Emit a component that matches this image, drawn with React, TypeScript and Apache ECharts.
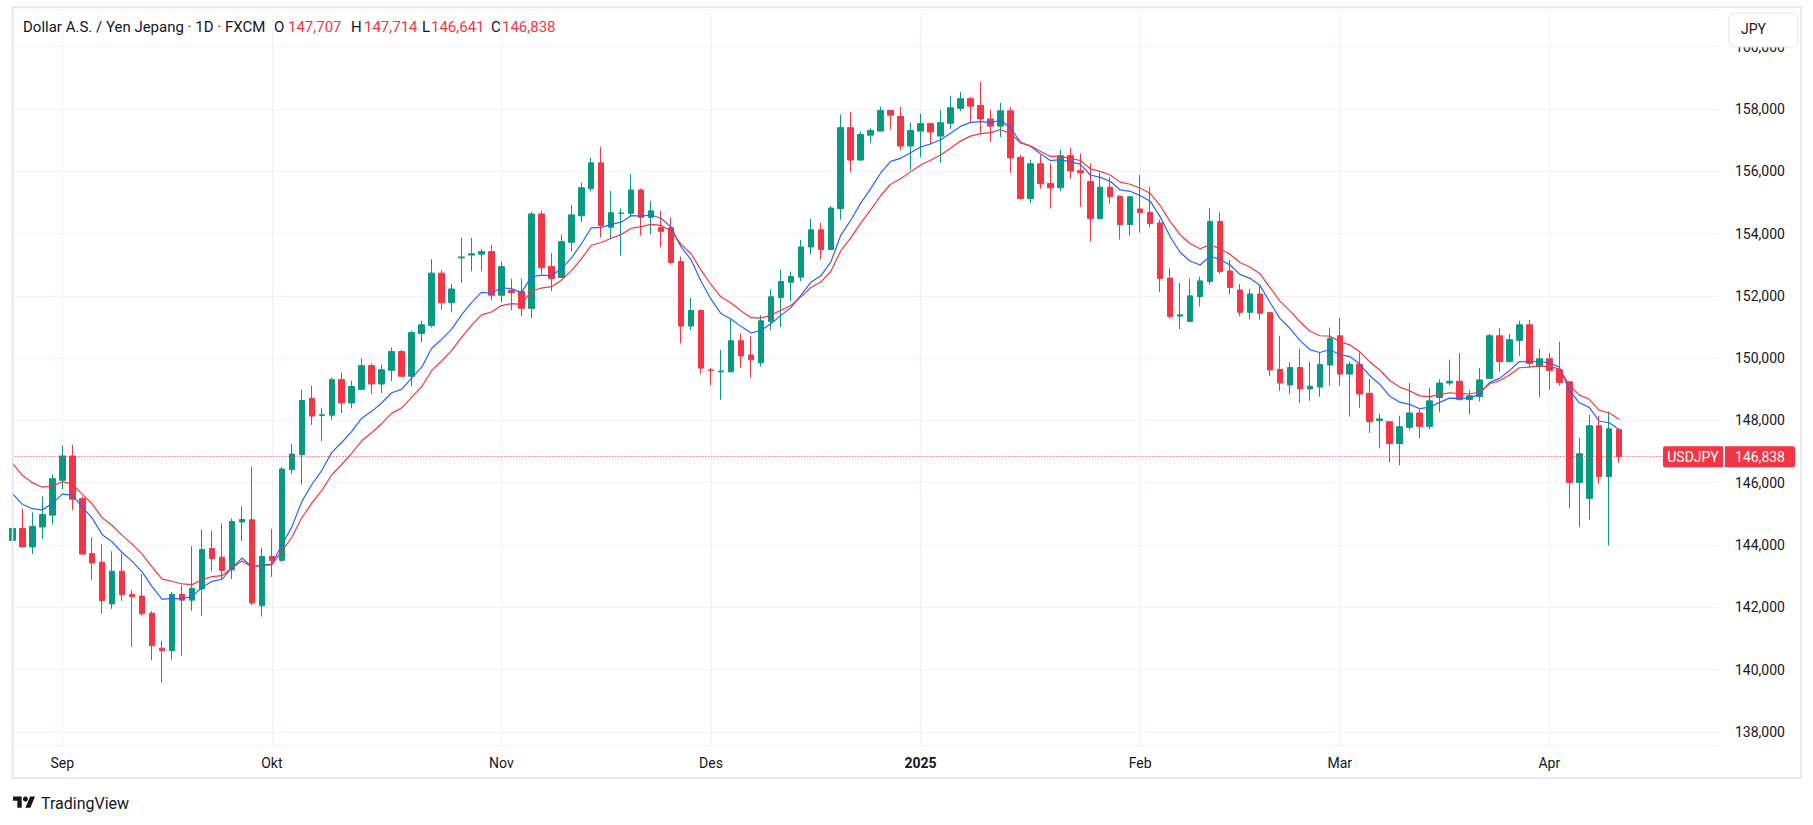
import { useEffect, useRef } from "react";
import * as echarts from "echarts";

const FONT = "Roboto, 'Noto Sans', 'DejaVu Sans', sans-serif";
const UP = "#089981";
const DOWN = "#F23645";
const TEXT = "#131722";
const GRID = "#F0F3FA";

const dates = [
  "2024-08-26", "2024-08-27", "2024-08-28", "2024-08-29", "2024-08-30",
  "2024-09-02", "2024-09-03", "2024-09-04", "2024-09-05", "2024-09-06", "2024-09-09", "2024-09-10", "2024-09-11", "2024-09-12", "2024-09-13",
  "2024-09-16", "2024-09-17", "2024-09-18", "2024-09-19", "2024-09-20", "2024-09-23", "2024-09-24", "2024-09-25", "2024-09-26", "2024-09-27", "2024-09-30",
  "2024-10-01", "2024-10-02", "2024-10-03", "2024-10-04", "2024-10-07", "2024-10-08", "2024-10-09", "2024-10-10", "2024-10-11", "2024-10-14", "2024-10-15",
  "2024-10-16", "2024-10-17", "2024-10-18", "2024-10-21", "2024-10-22", "2024-10-23", "2024-10-24", "2024-10-25", "2024-10-28", "2024-10-29", "2024-10-30", "2024-10-31",
  "2024-11-01", "2024-11-04", "2024-11-05", "2024-11-06", "2024-11-07", "2024-11-08", "2024-11-11", "2024-11-12", "2024-11-13", "2024-11-14", "2024-11-15",
  "2024-11-18", "2024-11-19", "2024-11-20", "2024-11-21", "2024-11-22", "2024-11-25", "2024-11-26", "2024-11-27", "2024-11-28", "2024-11-29",
  "2024-12-02", "2024-12-03", "2024-12-04", "2024-12-05", "2024-12-06", "2024-12-09", "2024-12-10", "2024-12-11", "2024-12-12", "2024-12-13",
  "2024-12-16", "2024-12-17", "2024-12-18", "2024-12-19", "2024-12-20", "2024-12-23", "2024-12-24", "2024-12-26", "2024-12-27", "2024-12-30", "2024-12-31",
  "2025-01-02", "2025-01-03", "2025-01-06", "2025-01-07", "2025-01-08", "2025-01-09", "2025-01-10", "2025-01-13", "2025-01-14", "2025-01-15", "2025-01-16",
  "2025-01-17", "2025-01-20", "2025-01-21", "2025-01-22", "2025-01-23", "2025-01-24", "2025-01-27", "2025-01-28", "2025-01-29", "2025-01-30", "2025-01-31",
  "2025-02-03", "2025-02-04", "2025-02-05", "2025-02-06", "2025-02-07", "2025-02-10", "2025-02-11", "2025-02-12", "2025-02-13", "2025-02-14",
  "2025-02-17", "2025-02-18", "2025-02-19", "2025-02-20", "2025-02-21", "2025-02-24", "2025-02-25", "2025-02-26", "2025-02-27", "2025-02-28",
  "2025-03-03", "2025-03-04", "2025-03-05", "2025-03-06", "2025-03-07", "2025-03-10", "2025-03-11", "2025-03-12", "2025-03-13", "2025-03-14",
  "2025-03-17", "2025-03-18", "2025-03-19", "2025-03-20", "2025-03-21", "2025-03-24", "2025-03-25", "2025-03-26", "2025-03-27", "2025-03-28", "2025-03-31",
  "2025-04-01", "2025-04-02", "2025-04-03", "2025-04-04", "2025-04-07", "2025-04-08", "2025-04-09", "2025-04-10",
];

// empty slots to the right of the last bar
const futureDates = [
  "2025-04-11", "2025-04-14", "2025-04-15", "2025-04-16", "2025-04-17",
  "2025-04-18", "2025-04-21", "2025-04-22", "2025-04-23", "2025-04-24",
];

const opens = [
  144.15, 144.53, 143.94, 144.58, 144.96,
  146.08, 146.86, 145.49, 143.73, 143.45, 142.11, 143.16, 142.42, 142.36, 141.81,
  140.69, 140.61, 142.42, 142.23, 142.59, 143.89, 143.61, 143.2, 144.74, 144.81, 142.05,
  143.63, 143.51, 146.42, 146.9, 148.71, 148.16, 148.17, 149.31, 148.56, 149.0, 149.76,
  149.17, 149.61, 150.21, 149.42, 150.79, 151.05, 152.73, 151.78, 153.22, 153.31, 153.34, 153.42,
  152.02, 152.17, 152.14, 151.6, 154.63, 152.94, 152.59, 153.72, 154.57, 155.44, 156.27,
  154.2, 154.65, 154.65, 155.4, 154.52, 154.19, 154.19, 153.1, 151.03, 151.53,
  149.62, 149.56, 149.56, 150.56, 150.1, 149.85, 151.18, 151.95, 152.44, 152.6,
  153.57, 154.12, 153.49, 154.8, 157.4, 156.36, 157.16, 157.29, 157.95, 157.76, 156.81,
  157.29, 157.53, 157.13, 157.54, 158.02, 158.33, 158.11, 157.68, 157.45, 157.94, 156.45,
  155.12, 156.24, 155.61, 155.47, 156.5, 156.02, 155.67, 154.48, 155.49, 155.2, 154.29,
  154.79, 154.68, 154.34, 152.57, 151.35, 151.18, 151.98, 152.46, 154.39, 152.8,
  152.19, 151.47, 152.06, 151.46, 149.64, 149.14, 149.7, 149.01, 149.07, 149.78,
  150.72, 149.49, 149.8, 148.87, 148.0, 147.96, 147.26, 147.78, 148.24, 147.81,
  148.74, 149.2, 149.26, 148.67, 148.77, 149.35, 150.72, 149.89, 150.57, 151.07, 149.73,
  149.98, 149.63, 149.24, 146.01, 145.5, 147.83, 146.2, 147.707,
];

const highs = [
  144.75, 145.17, 145.05, 145.56, 146.26,
  147.19, 147.22, 145.56, 144.25, 144.02, 143.8, 143.73, 142.55, 143.06, 141.88,
  140.92, 142.49, 142.71, 143.96, 144.5, 144.47, 144.69, 144.85, 145.24, 146.52, 143.91,
  144.52, 146.5, 147.24, 148.99, 149.12, 148.39, 149.38, 149.54, 149.28, 149.99, 149.83,
  149.79, 150.34, 150.27, 150.88, 151.2, 153.18, 152.83, 152.38, 153.87, 153.86, 153.51, 153.64,
  153.1, 152.55, 152.55, 154.7, 154.73, 153.38, 153.96, 154.92, 155.63, 156.43, 156.78,
  155.37, 154.81, 155.91, 155.45, 155.05, 154.73, 154.51, 153.26, 151.94, 151.56,
  149.68, 150.26, 151.24, 150.8, 150.71, 151.38, 152.21, 152.84, 152.78, 153.8,
  154.47, 154.34, 154.88, 157.82, 157.91, 157.28, 157.4, 158.07, 157.97, 158.07, 157.56,
  157.85, 157.56, 157.97, 158.43, 158.54, 158.39, 158.86, 157.97, 158.2, 158.06, 156.53,
  156.37, 156.53, 156.26, 156.69, 156.76, 156.57, 156.24, 155.96, 155.81, 155.23, 155.21,
  155.89, 155.51, 154.45, 152.89, 152.41, 152.55, 152.61, 154.81, 154.68, 153.15,
  152.38, 152.22, 152.31, 151.48, 150.72, 149.86, 150.31, 149.89, 150.18, 150.98,
  151.3, 149.89, 150.18, 149.33, 148.22, 147.98, 148.15, 149.2, 148.36, 149.05,
  149.32, 149.95, 150.17, 148.96, 149.68, 150.78, 150.97, 150.78, 151.2, 151.23, 150.3,
  150.17, 150.53, 149.26, 147.44, 148.18, 148.15, 148.29, 147.714,
];

const lows = [
  143.85, 143.92, 143.71, 144.19, 144.66,
  145.79, 145.12, 143.7, 142.88, 141.79, 141.95, 142.21, 140.73, 141.73, 140.3,
  139.58, 140.32, 140.45, 141.89, 141.73, 143.16, 142.91, 142.91, 144.13, 142.07, 141.7,
  142.98, 143.45, 146.29, 145.94, 147.86, 147.34, 148.02, 148.24, 148.39, 148.98, 148.85,
  148.88, 149.26, 149.39, 149.1, 150.51, 150.99, 151.56, 151.47, 152.42, 152.79, 152.79, 151.86,
  151.79, 151.54, 151.35, 151.28, 152.72, 152.15, 152.57, 153.43, 154.36, 155.35, 153.88,
  153.84, 153.3, 154.55, 153.94, 153.97, 153.56, 153.01, 150.48, 150.9, 149.49,
  149.12, 148.67, 149.54, 149.69, 149.37, 149.73, 150.9, 151.0, 151.83, 152.47,
  153.33, 153.17, 153.47, 154.45, 155.98, 156.34, 156.9, 157.27, 157.34, 156.68, 156.04,
  156.45, 156.87, 156.27, 157.36, 157.93, 157.57, 157.22, 156.94, 157.1, 155.95, 155.1,
  154.99, 155.44, 154.8, 155.37, 155.76, 154.86, 153.74, 154.45, 154.96, 153.81, 153.94,
  154.03, 154.19, 152.12, 151.26, 150.93, 151.16, 151.66, 152.36, 152.71, 152.04,
  151.34, 151.24, 151.24, 149.43, 148.95, 148.85, 148.56, 148.63, 148.76, 149.11,
  149.11, 148.12, 148.4, 147.6, 147.1, 146.65, 146.56, 147.68, 147.42, 147.71,
  148.26, 149.12, 148.64, 148.19, 148.61, 149.33, 149.56, 149.86, 150.07, 149.7, 148.74,
  148.99, 149.12, 145.18, 144.57, 144.82, 145.98, 143.99, 146.641,
];

const closes = [
  144.53, 143.94, 144.6, 144.98, 146.13,
  146.86, 145.47, 143.71, 143.42, 142.21, 143.16, 142.4, 142.34, 141.79, 140.77,
  140.61, 142.42, 142.23, 142.61, 143.86, 143.57, 143.18, 144.76, 144.82, 142.14, 143.63,
  143.5, 146.44, 146.92, 148.64, 148.14, 148.18, 149.31, 148.56, 149.09, 149.76, 149.17,
  149.63, 150.21, 149.42, 150.82, 151.07, 152.73, 151.78, 152.22, 153.25, 153.35, 153.42, 152.02,
  152.94, 152.11, 151.6, 154.63, 152.9, 152.56, 153.74, 154.6, 155.47, 156.27, 154.26,
  154.67, 154.66, 155.4, 154.52, 154.73, 154.07, 153.07, 151.03, 151.53, 149.68,
  149.6, 149.59, 150.56, 150.07, 149.95, 151.2, 151.97, 152.46, 152.62, 153.57,
  154.12, 153.49, 154.82, 157.4, 156.36, 157.18, 157.31, 157.95, 157.8, 156.81, 157.31,
  157.53, 157.26, 157.56, 158.04, 158.33, 158.09, 157.68, 157.45, 157.94, 156.43, 155.12,
  156.24, 155.6, 155.47, 156.5, 156.01, 155.95, 154.48, 155.49, 155.18, 154.29, 155.18,
  154.67, 154.32, 152.56, 151.34, 151.39, 152.0, 152.48, 154.39, 152.78, 152.27,
  151.47, 152.06, 151.44, 149.62, 149.2, 149.7, 149.01, 149.1, 149.8, 150.63,
  149.49, 149.8, 148.85, 147.96, 148.05, 147.26, 147.8, 148.24, 147.81, 148.63,
  149.2, 149.26, 148.67, 148.79, 149.3, 150.72, 149.89, 150.59, 151.07, 149.83, 149.98,
  149.6, 149.22, 146.01, 146.93, 147.83, 146.2, 147.73, 146.838,
];

// indicator settings (fast / slow EMA) and their values on the first visible bar
const fastPeriod = 9;
const slowPeriod = 13;
const fastSeed = 145.65;
const slowSeed = 146.62;

const monthNames = ["Jan", "Feb", "Mar", "Apr", "Mei", "Jun", "Jul", "Agu", "Sep", "Okt", "Nov", "Des"];

const yMin = 137.58;
const yMax = 161.21;

const symbolName = "USDJPY";
const titleText = "Dollar A.S. / Yen Jepang · 1D · FXCM";

echarts.graphic.registerShape(
  "tvlogo",
  echarts.graphic.extendPath("M14 22H7V11H0V4h14v18zM28 22h-8l7.5-18h8L28 22z", {})
);

function fmt(v: number) {
  return v.toFixed(3).replace(".", ",");
}

function ema(values: number[], period: number, seed: number) {
  const k = 2 / (period + 1);
  const out: number[] = [];
  let prev = seed;
  values.forEach((v, i) => {
    prev = i === 0 ? seed : prev + k * (v - prev);
    out.push(+prev.toFixed(4));
  });
  return out;
}

export default function App() {
  const ref = useRef<HTMLDivElement>(null);

  useEffect(() => {
    const el = ref.current!;
    const chart = echarts.init(el, null, { renderer: "svg" });

    const allDates = [...dates, ...futureDates];
    const month = (d: string) => parseInt(d.slice(5, 7), 10);
    const isMonthStart = allDates.map((d, i) => i > 0 && i < dates.length && month(d) !== month(allDates[i - 1]));

    const candles = dates.map((_, i) => [opens[i], closes[i], lows[i], highs[i]]);
    const fast = ema(closes, fastPeriod, fastSeed);
    const slow = ema(closes, slowPeriod, slowSeed);
    const last = dates.length - 1;
    const lastClose = closes[last];

    const option: any = {
      animation: false,
      backgroundColor: "#ffffff",
      textStyle: { fontFamily: FONT },
      grid: { left: 12.4, right: 94, top: 9, bottom: 80, containLabel: false },
      xAxis: {
        type: "category",
        data: allDates,
        boundaryGap: false,
        axisLine: { show: false },
        axisTick: { show: false },
        axisLabel: {
          interval: (i: number) => isMonthStart[i],
          color: TEXT,
          fontSize: 14,
          fontFamily: FONT,
          margin: 11,
          formatter: (v: string) => {
            const m = month(v);
            return m === 1 ? `{b|${v.slice(0, 4)}}` : monthNames[m - 1];
          },
          rich: { b: { fontWeight: "bold", fontSize: 14, color: TEXT, fontFamily: FONT } },
        },
        splitLine: {
          show: true,
          interval: (i: number) => isMonthStart[i],
          lineStyle: { color: GRID, width: 1 },
        },
      },
      yAxis: {
        type: "value",
        position: "right",
        min: yMin,
        max: yMax,
        splitNumber: 12,
        axisLine: { show: false },
        axisTick: { show: false },
        axisLabel: {
          color: TEXT,
          fontSize: 14,
          fontFamily: FONT,
          margin: 16,
          showMinLabel: false,
          showMaxLabel: false,
          formatter: (v: number) => fmt(v),
        },
        splitLine: { lineStyle: { color: GRID, width: 1 } },
      },
      series: [
        {
          name: symbolName,
          type: "candlestick",
          data: candles,
          barWidth: 6,
          itemStyle: {
            color: UP,
            color0: DOWN,
            borderColor: UP,
            borderColor0: DOWN,
            borderWidth: 1,
          },
          markLine: {
            silent: true,
            symbol: ["none", "none"],
            label: { show: false },
            lineStyle: { color: DOWN, type: [1, 2], width: 1 },
            data: [{ yAxis: lastClose }],
          },
        },
        {
          name: "EMA fast",
          type: "line",
          data: fast,
          showSymbol: false,
          symbol: "none",
          lineStyle: { color: "#2962FF", width: 1.2 },
          z: 3,
        },
        {
          name: "EMA slow",
          type: "line",
          data: slow,
          showSymbol: false,
          symbol: "none",
          lineStyle: { color: DOWN, width: 1.2 },
          z: 3,
        },
      ],
    };

    chart.setOption(option);

    const yTag = chart.convertToPixel({ yAxisIndex: 0 }, lastClose) as number;

    const legendItems = [
      { k: "O", v: opens[last], kx: 274, vx: 288 },
      { k: "H", v: highs[last], kx: 351, vx: 364 },
      { k: "L", v: lows[last], kx: 422, vx: 431 },
      { k: "C", v: closes[last], kx: 491, vx: 502 },
    ];

    const graphics: any[] = [
      {
        type: "rect",
        silent: true,
        z: 50,
        shape: { x: 12.5, y: 7, width: 1788.5, height: 771 },
        style: { fill: "none", stroke: "#E0E3EB", lineWidth: 1.5 },
      },
      {
        type: "text",
        silent: true,
        z: 60,
        x: 23,
        y: 27,
        style: { text: titleText, fill: TEXT, font: `15px ${FONT}`, verticalAlign: "middle" },
      },
      ...legendItems.flatMap((it) => [
        {
          type: "text",
          silent: true,
          z: 60,
          x: it.kx,
          y: 27,
          style: { text: it.k, fill: TEXT, font: `15px ${FONT}`, verticalAlign: "middle" },
        },
        {
          type: "text",
          silent: true,
          z: 60,
          x: it.vx,
          y: 27,
          style: { text: fmt(it.v), fill: DOWN, font: `15px ${FONT}`, verticalAlign: "middle" },
        },
      ]),
      {
        type: "rect",
        silent: true,
        z: 60,
        shape: { x: 1729, y: 13, width: 69, height: 34, r: 6 },
        style: { fill: "#ffffff", stroke: "#E0E3EB", lineWidth: 1 },
      },
      {
        type: "text",
        silent: true,
        z: 61,
        x: 1741,
        y: 29,
        style: { text: "JPY", fill: TEXT, font: `14px ${FONT}`, verticalAlign: "middle" },
      },
      {
        type: "rect",
        silent: true,
        z: 60,
        shape: { x: 1663, y: yTag - 10.5, width: 60, height: 21, r: [2, 0, 0, 2] },
        style: { fill: DOWN },
      },
      {
        type: "text",
        silent: true,
        z: 61,
        x: 1693,
        y: yTag,
        style: { text: symbolName, fill: "#ffffff", font: `14px ${FONT}`, align: "center", verticalAlign: "middle" },
      },
      {
        type: "rect",
        silent: true,
        z: 60,
        shape: { x: 1725, y: yTag - 10.5, width: 70, height: 21, r: [0, 2, 2, 0] },
        style: { fill: DOWN },
      },
      {
        type: "text",
        silent: true,
        z: 61,
        x: 1760,
        y: yTag,
        style: { text: fmt(lastClose), fill: "#ffffff", font: `14px ${FONT}`, align: "center", verticalAlign: "middle" },
      },
      {
        type: "tvlogo",
        silent: true,
        z: 60,
        x: 13,
        y: 794,
        scaleX: 0.62,
        scaleY: 0.62,
        style: { fill: TEXT },
      },
      {
        type: "circle",
        silent: true,
        z: 60,
        shape: { cx: 13 + 20 * 0.62, cy: 794 + 8 * 0.62, r: 2.5 },
        style: { fill: TEXT },
      },
      {
        type: "text",
        silent: true,
        z: 60,
        x: 41,
        y: 803,
        style: { text: "TradingView", fill: TEXT, font: `16px ${FONT}`, verticalAlign: "middle" },
      },
    ];

    chart.setOption({ graphic: graphics });

    return () => {
      chart.dispose();
    };
  }, []);

  return (
    <div
      ref={ref}
      style={{ position: "fixed", left: 0, top: 0, width: 1813, height: 825, background: "#ffffff" }}
    />
  );
}
